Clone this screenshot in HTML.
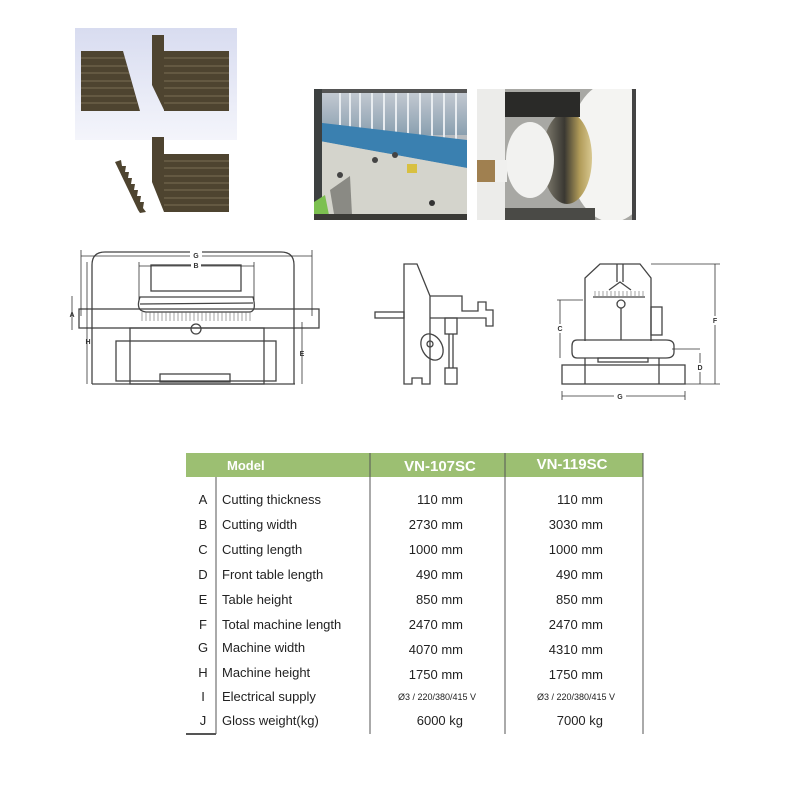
<!DOCTYPE html>
<html><head><style>
body{margin:0;background:#fff;}
svg{display:block}
text{font-family:"Liberation Sans",sans-serif;}
</style></head><body>
<svg width="800" height="800" viewBox="0 0 800 800">
<defs>
<linearGradient id="bg1" x1="0" y1="0" x2="0" y2="1"><stop offset="0" stop-color="#d8dcf0"/><stop offset="1" stop-color="#f4f5fb"/></linearGradient>
<linearGradient id="bars" x1="0" y1="0" x2="0" y2="1"><stop offset="0" stop-color="#c8ccd4"/><stop offset="1" stop-color="#8aa0b0"/></linearGradient>
<linearGradient id="ring" x1="0" y1="0" x2="1" y2="0"><stop offset="0" stop-color="#8a8678"/><stop offset="0.45" stop-color="#3a3832"/><stop offset="0.75" stop-color="#b09a58"/><stop offset="1" stop-color="#d8c890"/></linearGradient>
<clipPath id="c2"><rect x="477" y="89" width="159" height="131"/></clipPath>
</defs>
<rect x="75" y="28" width="162" height="112" fill="url(#bg1)"/>
<g fill="#4e4430">
<polygon points="81,51 123,51 140,111 81,111"/>
<rect x="152" y="35" width="12" height="50"/>
<polygon points="152,85 164,85 164,110"/>
<rect x="164" y="51" width="65" height="60"/>
<rect x="152" y="137" width="12" height="45"/>
<polygon points="152,182 164,182 164,212"/>
<rect x="164" y="154" width="65" height="58"/>
<polygon points="115,162 121,160 122,166 126,166 125,172 129,172 128,178 132,178 131,184 135,184 134,190 138,190 137,196 141,196 140,202 144,202 143,208 146,212 140,213 138,210"/>
</g>
<g stroke="#8a7d60" stroke-width="0.8">
<line x1="81" y1="58" x2="125" y2="58"/><line x1="81" y1="66" x2="127" y2="66"/><line x1="81" y1="73" x2="129" y2="73"/><line x1="81" y1="81" x2="131" y2="81"/><line x1="81" y1="88" x2="133" y2="88"/><line x1="81" y1="96" x2="135" y2="96"/><line x1="81" y1="103" x2="137" y2="103"/>
<line x1="164" y1="58" x2="229" y2="58"/><line x1="164" y1="66" x2="229" y2="66"/><line x1="164" y1="73" x2="229" y2="73"/><line x1="164" y1="81" x2="229" y2="81"/><line x1="164" y1="88" x2="229" y2="88"/><line x1="164" y1="96" x2="229" y2="96"/><line x1="164" y1="103" x2="229" y2="103"/>
<line x1="164" y1="161" x2="229" y2="161"/><line x1="164" y1="168" x2="229" y2="168"/><line x1="164" y1="176" x2="229" y2="176"/><line x1="164" y1="183" x2="229" y2="183"/><line x1="164" y1="190" x2="229" y2="190"/><line x1="164" y1="198" x2="229" y2="198"/><line x1="164" y1="205" x2="229" y2="205"/>
</g>
<g>
<rect x="314" y="89" width="153" height="131" fill="#b8bcc0"/>
<rect x="314" y="89" width="153" height="46" fill="url(#bars)"/>
<g stroke="#e8ecf0" stroke-width="2">
<line x1="340" y1="92" x2="340" y2="125"/><line x1="350" y1="92" x2="350" y2="128"/><line x1="360" y1="92" x2="360" y2="130"/><line x1="372" y1="92" x2="372" y2="132"/><line x1="384" y1="92" x2="384" y2="134"/><line x1="396" y1="92" x2="396" y2="136"/><line x1="408" y1="92" x2="408" y2="138"/><line x1="420" y1="92" x2="420" y2="140"/><line x1="432" y1="92" x2="432" y2="142"/><line x1="444" y1="92" x2="444" y2="144"/><line x1="456" y1="92" x2="456" y2="146"/>
</g>
<polygon points="314,122 467,140 467,168 314,140" fill="#3a80b0"/>
<polygon points="314,140 467,168 467,220 314,220" fill="#d4d4cc"/>
<rect x="314" y="89" width="153" height="4" fill="#555"/>
<rect x="314" y="89" width="8" height="131" fill="#3c4040"/>
<polygon points="330,190 350,176 352,215 335,220" fill="#8a8a84"/>
<polygon points="314,202 325,195 330,220 314,220" fill="#7cc050"/>
<rect x="314" y="214" width="153" height="6" fill="#3a3a36"/>
<rect x="407" y="164" width="10" height="9" fill="#d8c040"/>
<circle cx="375" cy="160" r="3" fill="#444"/><circle cx="395" cy="155" r="3" fill="#444"/><circle cx="432" cy="203" r="3" fill="#333"/><circle cx="340" cy="175" r="3" fill="#444"/>
</g>
<g clip-path="url(#c2)">
<rect x="477" y="89" width="159" height="131" fill="#e8e8e6"/>
<rect x="503" y="89" width="133" height="131" fill="#a8a8a4"/>
<rect x="477" y="89" width="28" height="131" fill="#ececea"/>
<ellipse cx="612" cy="152" rx="44" ry="70" fill="#f4f4f2"/>
<ellipse cx="567" cy="158" rx="25" ry="46" fill="url(#ring)"/>
<ellipse cx="530" cy="160" rx="24" ry="38" fill="#f2f2f0"/>
<rect x="477" y="160" width="30" height="22" fill="#f0f0ee"/>
<rect x="477" y="160" width="18" height="22" fill="#a08050"/>
<rect x="505" y="92" width="75" height="25" fill="#2a2a28"/>
<rect x="505" y="208" width="90" height="12" fill="#4a4a46"/>
<rect x="632" y="89" width="4" height="131" fill="#444"/>
</g>
<g fill="none" stroke="#444" stroke-width="1.3">
<path d="M92,329 V265 Q92,252 105,252 H281 Q294,252 294,265 V329"/>
<rect x="151" y="265" width="90" height="26"/>
<path d="M140,297 Q135,311 146,312 H249 Q257,312 253,297 Z"/>
<line x1="140" y1="304" x2="253" y2="303"/>
<rect x="79" y="309" width="240" height="19"/>
<rect x="130" y="328" width="134" height="56"/>
<rect x="116" y="341" width="160" height="40"/>
<rect x="160" y="374" width="70" height="8"/>
<circle cx="196" cy="329" r="5"/>
<line x1="92" y1="384" x2="295" y2="384"/>
<line x1="92" y1="328" x2="92" y2="384"/><line x1="294" y1="328" x2="294" y2="384"/>
</g>
<g stroke="#666" stroke-width="0.6">
<line x1="142" y1="312" x2="142" y2="321"/><line x1="146" y1="312" x2="146" y2="321"/><line x1="150" y1="312" x2="150" y2="321"/><line x1="154" y1="312" x2="154" y2="321"/><line x1="158" y1="312" x2="158" y2="321"/><line x1="162" y1="312" x2="162" y2="321"/><line x1="166" y1="312" x2="166" y2="321"/><line x1="170" y1="312" x2="170" y2="321"/><line x1="174" y1="312" x2="174" y2="321"/><line x1="178" y1="312" x2="178" y2="321"/><line x1="182" y1="312" x2="182" y2="321"/><line x1="186" y1="312" x2="186" y2="321"/><line x1="190" y1="312" x2="190" y2="321"/><line x1="194" y1="312" x2="194" y2="321"/><line x1="198" y1="312" x2="198" y2="321"/><line x1="202" y1="312" x2="202" y2="321"/><line x1="206" y1="312" x2="206" y2="321"/><line x1="210" y1="312" x2="210" y2="321"/><line x1="214" y1="312" x2="214" y2="321"/><line x1="218" y1="312" x2="218" y2="321"/><line x1="222" y1="312" x2="222" y2="321"/><line x1="226" y1="312" x2="226" y2="321"/><line x1="230" y1="312" x2="230" y2="321"/><line x1="234" y1="312" x2="234" y2="321"/><line x1="238" y1="312" x2="238" y2="321"/><line x1="242" y1="312" x2="242" y2="321"/><line x1="246" y1="312" x2="246" y2="321"/><line x1="250" y1="312" x2="250" y2="321"/>
</g>
<g stroke="#333" stroke-width="0.8">
<line x1="81" y1="256" x2="312" y2="256"/><line x1="81" y1="250" x2="81" y2="316"/><line x1="312" y1="250" x2="312" y2="316"/>
<line x1="139" y1="266" x2="254" y2="266"/><line x1="139" y1="262" x2="139" y2="300"/><line x1="254" y1="262" x2="254" y2="300"/>
<line x1="87" y1="262" x2="87" y2="384"/><line x1="72" y1="296" x2="72" y2="330"/><line x1="302" y1="322" x2="302" y2="384"/>
</g>
<g font-size="7" font-weight="bold" fill="#333" text-anchor="middle">
<rect x="190" y="251" width="12" height="9" fill="#fff"/><text x="196" y="258">G</text>
<rect x="191" y="261" width="10" height="9" fill="#fff"/><text x="196" y="268">B</text>
<text x="72" y="317">A</text><text x="88" y="344">H</text><text x="302" y="356">E</text>
</g>
<g fill="none" stroke="#444" stroke-width="1.3">
<path d="M404,384 V264 H417 L430,296 V384 H422 V378 H412 V384 Z"/>
<rect x="375" y="312" width="29" height="6"/>
<path d="M430,296 H462 V311 H478 V302 H486 V310 H493 V326 H486 V318 H430"/>
<rect x="445" y="318" width="12" height="16"/>
<line x1="449" y1="334" x2="449" y2="368"/><line x1="453" y1="334" x2="453" y2="368"/>
<rect x="445" y="368" width="12" height="16"/>
<ellipse cx="432" cy="347" rx="10" ry="14" transform="rotate(-30 432 347)"/>
<circle cx="430" cy="344" r="3"/>
</g>
<g fill="none" stroke="#444" stroke-width="1.3">
<path d="M585,341 V278 L600,264 H640 L651,278 V341"/>
<path d="M617,264 V282 M623,264 V282 M609,290 L620,282 L631,290"/>
<line x1="593" y1="297" x2="645" y2="297"/>
<circle cx="621" cy="304" r="4"/><line x1="621" y1="308" x2="621" y2="340"/>
<rect x="651" y="307" width="11" height="28"/>
<path d="M577,340 H666 Q674,340 674,346 V352 Q674,358 666,358 H577 Q572,358 572,352 V346 Q572,340 577,340 Z"/>
<rect x="598" y="358" width="50" height="4"/>
<rect x="562" y="365" width="123" height="19"/>
<line x1="585" y1="358" x2="585" y2="384"/><line x1="659" y1="358" x2="659" y2="384"/>
</g>
<g stroke="#666" stroke-width="0.6">
<line x1="595" y1="291" x2="595" y2="296"/><line x1="599" y1="291" x2="599" y2="296"/><line x1="603" y1="291" x2="603" y2="296"/><line x1="607" y1="291" x2="607" y2="296"/><line x1="611" y1="291" x2="611" y2="296"/><line x1="615" y1="291" x2="615" y2="296"/><line x1="619" y1="291" x2="619" y2="296"/><line x1="623" y1="291" x2="623" y2="296"/><line x1="627" y1="291" x2="627" y2="296"/><line x1="631" y1="291" x2="631" y2="296"/><line x1="635" y1="291" x2="635" y2="296"/><line x1="639" y1="291" x2="639" y2="296"/><line x1="643" y1="291" x2="643" y2="296"/>
</g>
<g stroke="#333" stroke-width="0.8">
<line x1="651" y1="264" x2="720" y2="264"/><line x1="715" y1="264" x2="715" y2="384"/><line x1="685" y1="384" x2="720" y2="384"/>
<line x1="557" y1="300" x2="583" y2="300"/><line x1="560" y1="300" x2="560" y2="358"/>
<line x1="672" y1="349" x2="700" y2="349"/><line x1="700" y1="353" x2="700" y2="384"/>
<line x1="562" y1="396" x2="685" y2="396"/><line x1="562" y1="391" x2="562" y2="400"/><line x1="685" y1="391" x2="685" y2="400"/>
</g>
<g font-size="7" font-weight="bold" fill="#333" text-anchor="middle">
<rect x="710" y="316" width="10" height="9" fill="#fff"/><text x="715" y="323">F</text>
<rect x="555" y="324" width="10" height="9" fill="#fff"/><text x="560" y="331">C</text>
<rect x="695" y="363" width="10" height="9" fill="#fff"/><text x="700" y="370">D</text>
<rect x="614" y="392" width="12" height="9" fill="#fff"/><text x="620" y="399">G</text>
</g>
<rect x="186" y="453" width="457" height="24" fill="#9cbf72"/>
<g fill="#fff" font-weight="bold">
<text x="227" y="470" font-size="13">Model</text>
<text x="440" y="471" font-size="15" text-anchor="middle">VN-107SC</text>
<text x="572" y="469" font-size="15" text-anchor="middle">VN-119SC</text>
</g>
<g stroke="#555" stroke-width="1">
<line x1="216" y1="477" x2="216" y2="734"/>
<line x1="370" y1="453" x2="370" y2="734"/>
<line x1="505" y1="453" x2="505" y2="734"/>
<line x1="643" y1="453" x2="643" y2="734"/>
<line x1="186" y1="734" x2="216" y2="734" stroke-width="2"/>
</g>
<g font-size="13" fill="#222">
<g text-anchor="middle">
<text x="203" y="504">A</text><text x="203" y="529">B</text><text x="203" y="554">C</text><text x="203" y="579">D</text><text x="203" y="604">E</text><text x="203" y="629">F</text><text x="203" y="652">G</text><text x="203" y="677">H</text><text x="203" y="701">I</text><text x="203" y="725">J</text>
</g>
<text x="222" y="504">Cutting thickness</text><text x="222" y="529">Cutting width</text><text x="222" y="554">Cutting length</text><text x="222" y="579">Front table length</text><text x="222" y="604">Table height</text><text x="222" y="629">Total machine length</text><text x="222" y="652">Machine width</text><text x="222" y="677">Machine height</text><text x="222" y="701">Electrical supply</text><text x="222" y="725">Gloss weight(kg)</text>
<g text-anchor="end">
<text x="463" y="504">110 mm</text><text x="463" y="529">2730 mm</text><text x="463" y="554">1000 mm</text><text x="463" y="579">490 mm</text><text x="463" y="604">850 mm</text><text x="463" y="629">2470 mm</text><text x="463" y="654">4070 mm</text><text x="463" y="679">1750 mm</text><text x="463" y="725">6000 kg</text>
<text x="603" y="504">110 mm</text><text x="603" y="529">3030 mm</text><text x="603" y="554">1000 mm</text><text x="603" y="579">490 mm</text><text x="603" y="604">850 mm</text><text x="603" y="629">2470 mm</text><text x="603" y="654">4310 mm</text><text x="603" y="679">1750 mm</text><text x="603" y="725">7000 kg</text>
</g>
<g font-size="9" text-anchor="middle"><text x="437" y="700">Ø3 / 220/380/415 V</text><text x="576" y="700">Ø3 / 220/380/415 V</text></g>
</g>
</svg>
</body></html>
